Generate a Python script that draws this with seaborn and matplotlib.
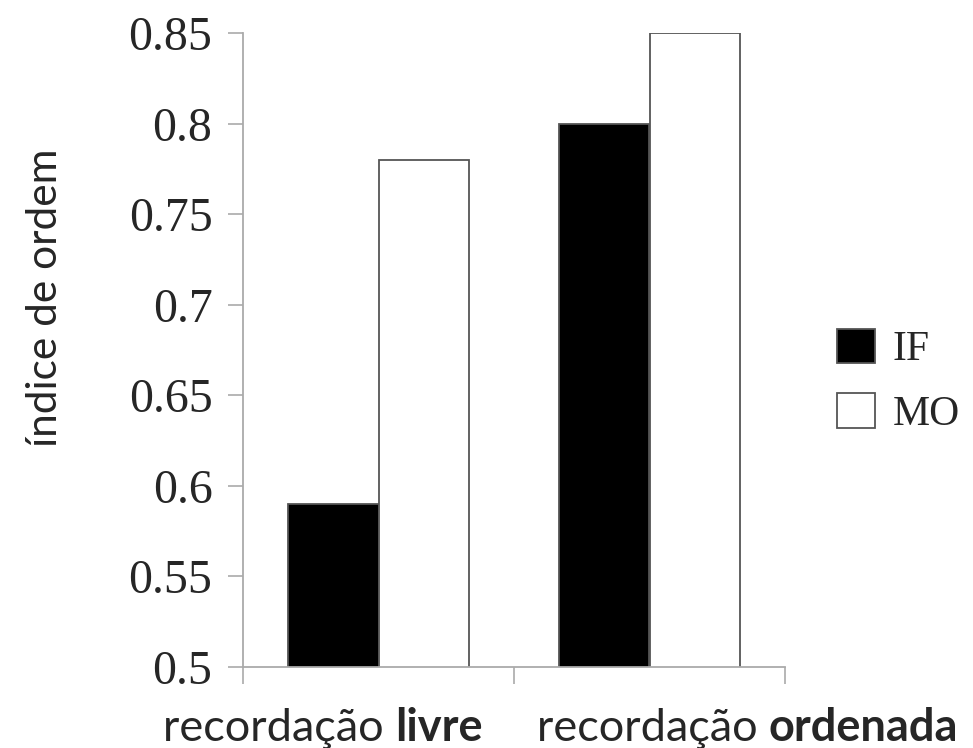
import pandas as pd
import matplotlib
matplotlib.use("Agg")
import matplotlib.pyplot as plt
import seaborn as sns

# data
conditions = ["recordação livre", "recordação ordenada"]
label_normal = ["recordação ", "recordação "]
label_bold = ["livre", "ordenada"]
groups = ["IF", "MO"]
if_values = [0.59, 0.80]
mo_values = [0.78, 0.85]
yticks = [0.5, 0.55, 0.6, 0.65, 0.7, 0.75, 0.8, 0.85]
ytick_labels = ["0.5", "0.55", "0.6", "0.65", "0.7", "0.75", "0.8", "0.85"]

# where the category labels start (axes fraction), they are not centred
label_left = [-0.147, 0.542]

df = pd.DataFrame({
    "condicao": conditions * 2,
    "grupo": [groups[0]] * 2 + [groups[1]] * 2,
    "valor": if_values + mo_values,
})

sns.set_style("white")
plt.rcParams["font.family"] = ["Liberation Serif", "DejaVu Serif"]

fig = plt.figure(figsize=(9.73, 7.48), dpi=100)
ax = fig.add_axes([243 / 973, 81 / 748, 542 / 973, 634 / 748])

sns.barplot(data=df, x="condicao", y="valor", hue="grupo",
            palette={"IF": "black", "MO": "white"}, width=0.665,
            edgecolor="#555555", linewidth=1.3, saturation=1, ax=ax)

ax.set_ylim(0.5, 0.85)
ax.set_xlim(-0.5, 1.5)
ax.set_yticks(yticks)
ax.set_yticklabels(ytick_labels, fontsize=34.5)
ax.set_ylabel("índice de ordem", fontsize=30.5, family="Lato")
ax.yaxis.set_label_coords(-0.330, 0.582)
ax.set_xlabel("")

gray = "#aaaaaa"
for side in ["top", "right"]:
    ax.spines[side].set_visible(False)
for side in ["left", "bottom"]:
    ax.spines[side].set_color(gray)
    ax.spines[side].set_linewidth(1.3)

ax.tick_params(axis="y", left=True, length=11, width=1.2, color=gray, pad=11)
ax.set_xticks([0, 1])
ax.set_xticklabels(["", ""])
ax.tick_params(axis="x", which="major", length=0)
ax.set_xticks([-0.5, 0.5, 1.5], minor=True)
ax.tick_params(axis="x", which="minor", bottom=True, length=12, width=1.2, color=gray)

# category labels with a bold part
for i in range(len(conditions)):
    t1 = ax.text(label_left[i], -0.117, label_normal[i], transform=ax.transAxes,
                 ha="left", va="baseline", fontsize=32.5, family="Lato")
    ax.annotate(label_bold[i], xy=(1, 0), xycoords=t1, ha="left", va="bottom",
                fontsize=32.5, family="Lato", weight="bold")

ax.legend(loc="center left", bbox_to_anchor=(1.066, 0.451), borderaxespad=0,
          frameon=False, fontsize=30, handlelength=0.9, handleheight=0.9,
          handletextpad=0.42, labelspacing=0.57)

fig.savefig("out.png", dpi=100)
